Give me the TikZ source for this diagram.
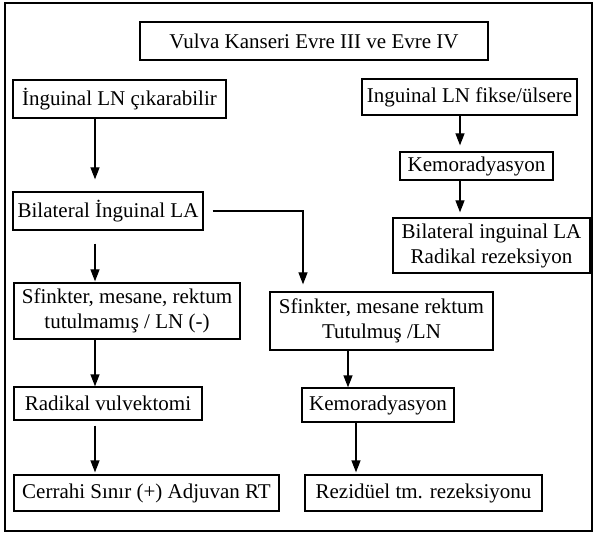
\documentclass[tikz,border=0pt]{standalone}
\usepackage{fontspec}
\setmainfont{Liberation Serif}
\usepackage{tikz}
\usetikzlibrary{positioning}
\usetikzlibrary{arrows.meta}

\tikzset{
  kutu/.style={draw, line width=1.3pt, inner sep=0pt, align=center, font=\fontsize{21}{25}\selectfont},
  ok/.style={line width=1.3pt, -{Triangle[length=12pt,width=9pt]}}
}

\begin{document}
\begin{tikzpicture}[x=1pt,y=-1pt]
  \useasboundingbox (0,0) rectangle (594,534);
  % Frame
  \draw[line width=1.5pt] (5,3) rectangle (592,531);

  % Title
  \node[kutu, minimum width=348, minimum height=38] (baslik) at (314,41) {Vulva Kanseri Evre III ve Evre IV};

  % Left column
  \node[kutu, minimum width=213, minimum height=38] (ingCik) at (119.5,99) {İnguinal LN çıkarabilir};
  \node[kutu, minimum width=190, minimum height=38] (bilIng) at (108,211) {Bilateral İnguinal LA};
  \node[kutu, minimum width=226, minimum height=56] (sfMamis) at (127,311) {Sfinkter, mesane, rektum\\tutulmamış / LN (-)};
  \node[kutu, minimum width=188, minimum height=33] (radVul) at (108,403.5) {Radikal vulvektomi};
  \node[kutu, minimum width=265, minimum height=36] (cerrahi) at (146.5,493) {Cerrahi Sınır (+) Adjuvan RT};

  % Middle column
  \node[kutu, minimum width=223, minimum height=58] (sfMus) at (381.5,321) {Sfinkter, mesane rektum\\Tutulmuş /LN};
  \node[kutu, minimum width=152, minimum height=34] (kemoAlt) at (378,405) {Kemoradyasyon};
  \node[kutu, minimum width=237, minimum height=36] (rezidu) at (423.5,493) {Rezidüel tm. rezeksiyonu};

  % Right column
  \node[kutu, minimum width=215, minimum height=36] (ingFik) at (469.5,97) {Inguinal LN fikse/ülsere};
  \node[kutu, minimum width=153, minimum height=28] (kemoSag) at (476.5,166) {Kemoradyasyon};
  \node[kutu, minimum width=197, minimum height=55] (bilRad) at (491.5,245.5) {Bilateral inguinal LA\\Radikal rezeksiyon};

  % Arrows
  \draw[ok, shorten >=12pt] (ingCik.south -| 95,0) -- (bilIng.north -| 95,0);
  \draw[ok, shorten <=13pt, shorten >=1pt] (bilIng.south -| 95,0) -- (sfMamis.north -| 95,0);
  \draw[ok, shorten <=9pt, shorten >=7pt] (bilIng.east) -| (sfMus.north -| 303,0);
  \draw[ok] (sfMamis.south -| 95,0) -- (radVul.north -| 95,0);
  \draw[ok, shorten <=5pt, shorten >=2pt] (radVul.south -| 95,0) -- (cerrahi.north -| 95,0);
  \draw[ok, shorten >=6pt] (ingFik.south -| 460,0) -- (kemoSag.north -| 460,0);
  \draw[ok, shorten >=5pt] (kemoSag.south -| 460,0) -- (bilRad.north -| 460,0);
  \draw[ok] (sfMus.south -| 348,0) -- (kemoAlt.north -| 348,0);
  \draw[ok, shorten >=2pt] (kemoAlt.south -| 356,0) -- (rezidu.north -| 356,0);
\end{tikzpicture}
\end{document}
